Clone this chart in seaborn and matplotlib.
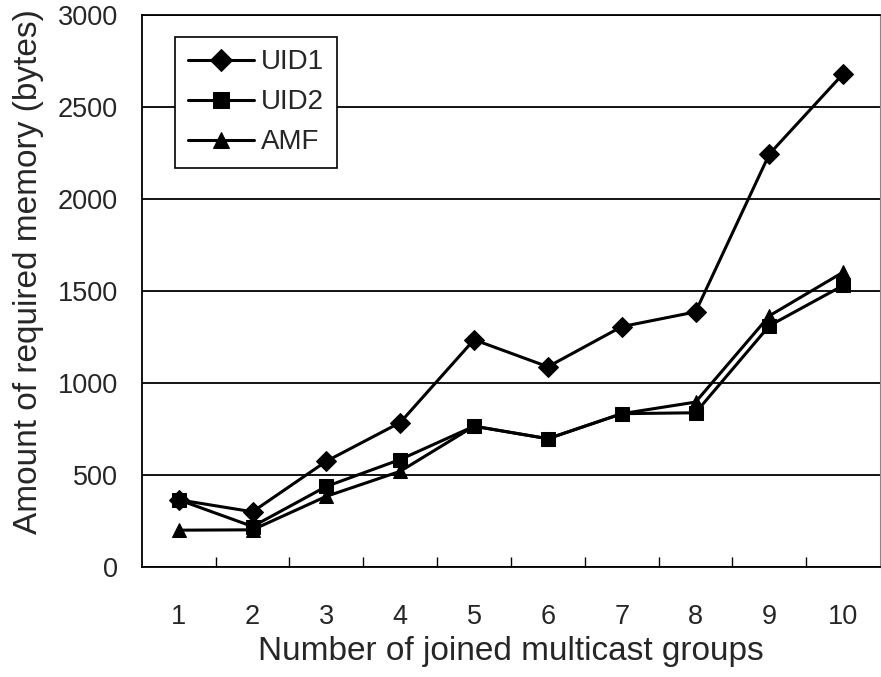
import matplotlib
matplotlib.use("Agg")
import matplotlib.pyplot as plt
import seaborn as sns
import pandas as pd
from matplotlib.ticker import FixedLocator

groups = [1, 2, 3, 4, 5, 6, 7, 8, 9, 10]
uid1 = [365, 300, 575, 785, 1235, 1088, 1306, 1386, 2244, 2680]
uid2 = [365, 220, 438, 584, 765, 697, 833, 838, 1311, 1530]
amf = [200, 202, 384, 520, 765, 697, 833, 896, 1365, 1602]
series_names = ["UID1", "UID2", "AMF"]
y_ticks = [0, 500, 1000, 1500, 2000, 2500, 3000]

df = pd.concat([
    pd.DataFrame({"x": groups, "y": uid1, "series": "UID1"}),
    pd.DataFrame({"x": groups, "y": uid2, "series": "UID2"}),
    pd.DataFrame({"x": groups, "y": amf, "series": "AMF"}),
], ignore_index=True)

sns.set_theme(style="white")
plt.rcParams["font.family"] = ["Liberation Sans", "DejaVu Sans"]

fig = plt.figure(figsize=(8.81, 6.77), dpi=100)
ax = fig.add_axes([0.161, 0.1625, 0.838, 0.8155])

sns.lineplot(data=df, x="x", y="y", hue="series", style="series",
             hue_order=series_names, style_order=series_names,
             palette=["black"] * 3, markers={"UID1": "D", "UID2": "s", "AMF": "^"},
             dashes=False, markersize=10, linewidth=2.2, markeredgecolor="black",
             ax=ax, zorder=3)

ax.set_xlim(0.5, 10.5)
ax.set_ylim(0, 3000)
ax.set_xticks(groups)
ax.set_xticklabels([str(g) for g in groups])
ax.xaxis.set_minor_locator(FixedLocator([g + 0.5 for g in groups[:-1]]))
ax.tick_params(axis="x", which="major", length=0, labelsize=19.5, pad=27)
ax.tick_params(axis="x", which="minor", direction="in", length=7, width=1, color="black", bottom=True)
ax.set_yticks(y_ticks)
ax.tick_params(axis="y", which="major", length=0, labelsize=19.5, pad=17)
ax.yaxis.grid(True, color="black", linewidth=1.3)
ax.set_axisbelow(True)

for s in ax.spines.values():
    s.set_color("black")
    s.set_linewidth(1.3)
ax.spines["right"].set_linewidth(0.8)
ax.spines["right"].set_color("#888888")

ax.set_xlabel("Number of joined multicast groups", fontsize=24, labelpad=4)
ax.set_ylabel("Amount of required memory (bytes)", fontsize=24, labelpad=8)
ax.yaxis.set_label_coords(-0.132, 0.535)

leg = ax.legend(loc="upper left", bbox_to_anchor=(0.045, 0.96), fontsize=20,
                frameon=True, fancybox=False, edgecolor="black", framealpha=1,
                handlelength=2.4, handletextpad=0.25, labelspacing=0.5,
                borderpad=0.45, borderaxespad=0)
leg.get_frame().set_linewidth(1.2)
for h in leg.legend_handles:
    h.set_markersize(11)

fig.savefig("out.png", dpi=100)
